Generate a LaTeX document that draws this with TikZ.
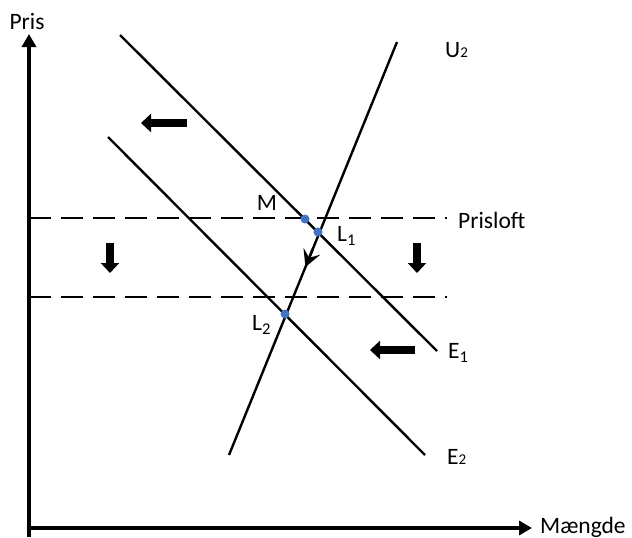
\documentclass[tikz,border=0pt]{standalone}
\usepackage{fontspec}
\setmainfont{Carlito}
\usetikzlibrary{arrows.meta,calc}
\definecolor{dotblue}{RGB}{68,114,196}
\begin{document}
\begin{tikzpicture}[x=1pt,y=-1pt,
  lbl/.style={font=\fontsize{23.5}{27}\selectfont, inner sep=0pt},
  curve/.style={line width=2.4pt},
  axis/.style={line width=3.5pt, -{Triangle[width=14pt,length=13pt]}},
  ceiling/.style={line width=2.8pt, dash pattern=on 22pt off 10pt},
  blockarrow/.style={line width=8pt, -{Triangle[width=18pt,length=10pt]}},
  pt/.style={circle, fill=dotblue, inner sep=0pt, minimum size=9pt}]
\useasboundingbox (0,0) rectangle (632,538);
% coordinates
\coordinate (O) at (29,528);
\coordinate (Ytop) at (29,34);
\coordinate (Ybot) at (29,537);
\coordinate (Xend) at (532,528);
\coordinate (E1a) at (120,35);
\coordinate (E1b) at (437,351);
\coordinate (E2a) at (108,137);
\coordinate (E2b) at (425,455);
\coordinate (U2a) at (229,455);
\coordinate (U2b) at (397,42);
\coordinate (P1a) at (29,218);
\coordinate (P1b) at (447,218);
\coordinate (P2a) at (29,297);
\coordinate (P2b) at (447,297);
% axes
\draw[axis] (Ybot) -- (Ytop);
\draw[axis] (O) -- (Xend);
% lines
\draw[ceiling] (P1a) -- (P1b);
\draw[ceiling] (P2a) -- (P2b);
\draw[curve] (E1a) -- (E1b);
\draw[curve] (E2a) -- (E2b);
\draw[curve] (U2a) -- (U2b);
% small arrow on U2
\coordinate (Ha) at ($(U2a)!0.455!(U2b)$);
\coordinate (Hb) at ($(U2a)!0.50!(U2b)$);
\draw[line width=2.4pt, -{Stealth[width=18pt,length=17pt,inset=7pt]}] (Hb) -- (Ha);
% block arrows
\coordinate (A1s) at (187,123); \coordinate (A1e) at (141,123);
\coordinate (A2s) at (110,243); \coordinate (A2e) at (110,273);
\coordinate (A3s) at (417,243); \coordinate (A3e) at (417,273);
\coordinate (A4s) at (415,350); \coordinate (A4e) at (370,350);
\draw[blockarrow] (A1s) -- (A1e);
\draw[blockarrow] (A2s) -- (A2e);
\draw[blockarrow] (A3s) -- (A3e);
\draw[blockarrow] (A4s) -- (A4e);
% points
\node[pt] (M) at (305,219) {};
\node[pt] (L1) at (318,232) {};
\node[pt] (L2) at (285,314) {};
% labels
\node[lbl] (tPris) at (27,22) {Pris};
\node[lbl, anchor=west] (tMaengde) at (540,527) {Mængde};
\node[lbl, anchor=west] (tU2) at (445,50) {U{\fontsize{15}{15}\selectfont 2}};
\node[lbl, anchor=west] (tPrisloft) at (458,220) {Prisloft};
\node[lbl] (tM) at (267,203) {M};
\node[lbl, anchor=west] (tL1) at (337,236) {L\textsubscript{1}};
\node[lbl, anchor=west] (tL2) at (252,325) {L\textsubscript{2}};
\node[lbl, anchor=west] (tE1) at (448,353) {E\textsubscript{1}};
\node[lbl, anchor=west] (tE2) at (447,457) {E{\fontsize{15}{15}\selectfont 2}};
\end{tikzpicture}
\end{document}
